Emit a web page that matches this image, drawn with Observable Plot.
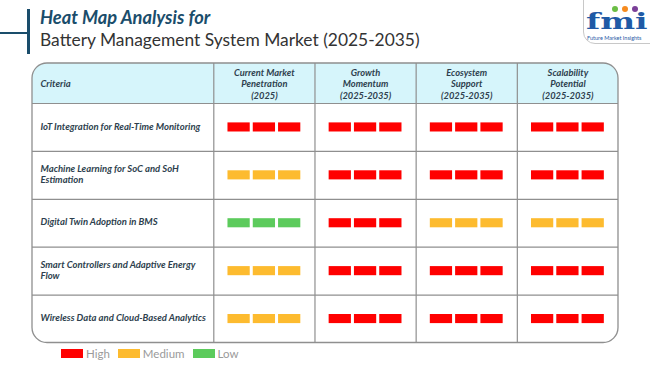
<!DOCTYPE html>
<html><head><meta charset="utf-8">
<script src="https://cdn.jsdelivr.net/npm/d3@7"></script>
<script src="https://cdn.jsdelivr.net/npm/@observablehq/plot@0.6"></script>
<style>
body{margin:0;background:#fff;}
#wrap{position:relative;width:650px;height:365px;overflow:hidden;font-family:Lato,sans-serif;background:#fff;}
#wrap svg.plot{position:absolute;left:0;top:0;}
.t1{position:absolute;left:40px;top:7px;font-size:18.3px;font-weight:bold;font-style:italic;color:#1A4D6B;white-space:nowrap;line-height:20px;}
.t2{position:absolute;left:40px;top:30px;font-size:17.4px;color:#333;white-space:nowrap;line-height:20px;}
.vbar{position:absolute;left:27px;top:9px;width:3px;height:45px;background:#1A4D6B;}
.hbar{position:absolute;left:0;top:32px;width:28px;height:1.5px;background:#1A4D6B;}
.logo{position:absolute;left:583px;top:-12px;width:80px;height:54px;border:1px solid #c8c8c8;border-radius:0 0 0 12px;background:#fff;}
.fmi{position:absolute;left:2px;top:23.4px;font-family:"DejaVu Serif",serif;font-weight:bold;font-size:22px;color:#1F5AA6;line-height:18px;height:18px;transform:scaleX(1.5);transform-origin:0 0;}
.fmisub{position:absolute;left:3px;top:46px;font-size:5.5px;color:#1F5AA6;white-space:nowrap;line-height:6px;}
.dot{position:absolute;top:17px;width:6px;height:6px;border-radius:50%;}
#legend{position:absolute;left:61px;top:347px;display:flex;align-items:center;font-size:11.5px;color:#9a9a9a;}
#legend .sw{width:22px;height:9px;margin-right:3px;}
#legend .lb{margin-right:8px;line-height:13px;}
</style></head><body><div id="wrap">
<div class="hbar"></div><div class="vbar"></div>
<div class="t1">Heat Map Analysis for</div>
<div class="t2">Battery Management System Market (2025-2035)</div>
<div class="logo"><div class="dot" style="left:28px;background:#6BBE45"></div><div class="dot" style="left:38px;background:#F68B1F"></div><div class="dot" style="left:48px;background:#7B3F98"></div><div class="fmi">fmi</div><div class="fmisub">Future Market Insights</div></div>
<div id="legend"></div>
</div>
<script>
const criteria = [
  "IoT Integration for Real-Time Monitoring",
  "Machine Learning for SoC and SoH\nEstimation",
  "Digital Twin Adoption in BMS",
  "Smart Controllers and Adaptive Energy\nFlow",
  "Wireless Data and Cloud-Based Analytics"
];
const columns = [
  "Current Market\nPenetration\n(2025)",
  "Growth\nMomentum\n(2025-2035)",
  "Ecosystem\nSupport\n(2025-2035)",
  "Scalability\nPotential\n(2025-2035)"
];
const ratings = [
  ["High","High","High","High"],
  ["Medium","High","High","High"],
  ["Low","High","Medium","Medium"],
  ["Medium","High","High","High"],
  ["Medium","High","High","High"]
];
const levels = ["High","Medium","Low"];
const levelColors = ["#FF0000","#FDBB2F","#5CCB5C"];
const headerLabel = "Criteria";

const X0 = -1.792, X1 = columns.length, Y0 = -0.835, Y1 = criteria.length;
const segments = [];
ratings.forEach((r,i)=>r.forEach((lv,j)=>{for(let k=0;k<3;k++) segments.push({row:i,col:j,k,level:lv});}));

const grid = "#8f8f8f";
const txt = {fontStyle:"italic",fontWeight:"bold",fill:"#2E3F4E",fontFamily:"Lato"};
const plot = Plot.plot({
  width:650, height:365,
  x:{domain:[X0,X1], range:[32,618], axis:null},
  y:{domain:[Y0,Y1], range:[63,342.5], axis:null},
  color:{domain:levels, range:levelColors},
  marks:[
    Plot.rect([0],{x1:X0,x2:X1,y1:Y0,y2:Y1,fill:"#D6F5FB",rx:15}),
    Plot.rect([0],{x1:X0,x2:X1,y1:0,y2:Y1,fill:"#fff",rx:15}),
    Plot.rect([0],{x1:X0,x2:X1,y1:0,y2:1,fill:"#fff"}),
    Plot.ruleY(d3.range(0,criteria.length),{x1:X0,x2:X1,stroke:grid,strokeWidth:1.2}),
    Plot.ruleX(d3.range(0,columns.length),{y1:Y0,y2:Y1,stroke:grid,strokeWidth:1.2}),
    Plot.rect([0],{x1:X0,x2:X1,y1:Y0,y2:Y1,fill:"none",stroke:grid,strokeWidth:1.3,rx:15}),
    Plot.rect(segments,{
      x1:d=>d.col+0.5+(d.k-1)*0.25-0.11,
      x2:d=>d.col+0.5+(d.k-1)*0.25+0.11,
      y1:d=>d.row+0.5-0.095, y2:d=>d.row+0.5+0.095,
      fill:"level"
    }),
    Plot.text([headerLabel],{x:X0,y:Y0/2,dx:8,text:d=>d,textAnchor:"start",fontSize:9.5,...txt}),
    Plot.text(columns,{x:(d,i)=>i+0.5,y:Y0/2,text:d=>d,fontSize:9.3,lineHeight:1.24,...txt}),
    Plot.text(criteria,{x:X0,y:(d,i)=>i+0.47,dx:8,text:d=>d,textAnchor:"start",fontSize:9.5,lineHeight:1.2,...txt})
  ]
});
plot.classList.add("plot");
document.getElementById("wrap").prepend(plot);

const lg = document.getElementById("legend");
levels.forEach((lv,i)=>{
  const sw=document.createElement("div");sw.className="sw";sw.style.background=levelColors[i];
  const lb=document.createElement("div");lb.className="lb";lb.textContent=lv;
  lg.appendChild(sw);lg.appendChild(lb);
});
</script>
</body></html>
